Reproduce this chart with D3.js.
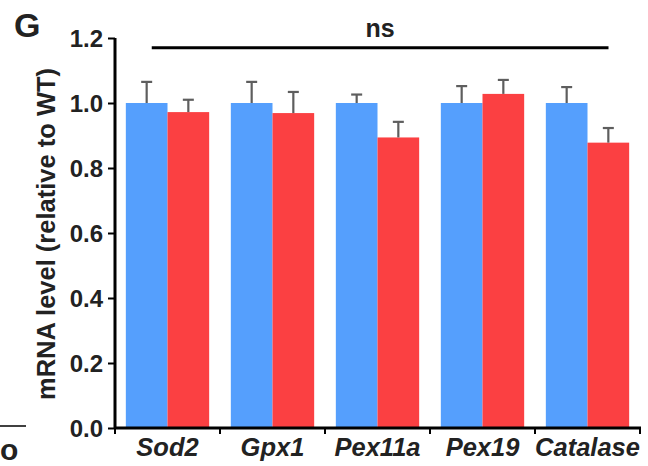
<!DOCTYPE html>
<html>
<head>
<meta charset="utf-8">
<script src="https://cdn.jsdelivr.net/npm/d3@7"></script>
<style>
  body { margin: 0; background: #fff; }
  text { font-family: Arial, "Liberation Sans", Helvetica, sans-serif; }
</style>
</head>
<body>
<script>
// genes on the x axis
var genes = ["Sod2", "Gpx1", "Pex11a", "Pex19", "Catalase"];
var groups = ["WT", "KO"];

// mean values (relative to WT)
var wtMean = [1.0, 1.0, 1.0, 1.0, 1.0];
var koMean = [0.972, 0.969, 0.894, 1.028, 0.878];
// upper error (mean + SEM)
var wtErr = [1.065, 1.065, 1.026, 1.052, 1.049];
var koErr = [1.010, 1.034, 0.942, 1.071, 0.923];

var yTicks = [0.0, 0.2, 0.4, 0.6, 0.8, 1.0, 1.2];
var colors = {WT: "#559ffd", KO: "#fb4042"};

var width = 648, height = 466;
var margin = {top: 38, right: 8, bottom: 38, left: 115};

var data = genes.map(function(g, i) {
  return {gene: g, values: [
    {key: "WT", mean: wtMean[i], err: wtErr[i]},
    {key: "KO", mean: koMean[i], err: koErr[i]}
  ]};
});

var svg = d3.select("body").append("svg")
    .attr("width", width)
    .attr("height", height);

var x0 = d3.scaleBand().domain(genes)
    .range([margin.left, width - margin.right]).padding(0);
var x1 = d3.scaleBand().domain(groups)
    .range([0, x0.bandwidth()]).paddingInner(0).paddingOuter(0.26);
var y = d3.scaleLinear().domain([0, 1.2])
    .range([height - margin.bottom, margin.top]);

// bars
var g = svg.selectAll(".grp")
    .data(data)
  .enter().append("g")
    .attr("transform", function(d) { return "translate(" + x0(d.gene) + ",0)"; });

g.selectAll("rect")
    .data(function(d) { return d.values; })
  .enter().append("rect")
    .attr("x", function(d) { return x1(d.key); })
    .attr("width", x1.bandwidth())
    .attr("y", function(d) { return y(d.mean); })
    .attr("height", function(d) { return y(0) - y(d.mean); })
    .style("fill", function(d) { return colors[d.key]; });

// error bars
var eb = g.selectAll(".err")
    .data(function(d) { return d.values; })
  .enter().append("g")
    .style("stroke", "#5e5e5e")
    .style("stroke-width", 2.2);
eb.append("line")
    .attr("x1", function(d) { return x1(d.key) + x1.bandwidth() / 2; })
    .attr("x2", function(d) { return x1(d.key) + x1.bandwidth() / 2; })
    .attr("y1", function(d) { return y(d.mean); })
    .attr("y2", function(d) { return y(d.err); });
eb.append("line")
    .attr("x1", function(d) { return x1(d.key) + x1.bandwidth() / 2 - 5.5; })
    .attr("x2", function(d) { return x1(d.key) + x1.bandwidth() / 2 + 5.5; })
    .attr("y1", function(d) { return y(d.err); })
    .attr("y2", function(d) { return y(d.err); });

// y axis
var yAxis = d3.axisLeft(y).tickValues(yTicks)
    .tickFormat(d3.format(".1f")).tickSize(7).tickPadding(5);
var ya = svg.append("g")
    .attr("transform", "translate(" + margin.left + ",0)")
    .call(yAxis);
ya.select(".domain").attr("d", "M0," + y(0) + "V" + y(1.2)).style("stroke-width", 3);
ya.selectAll(".tick line").style("stroke-width", 2);
ya.selectAll("text")
    .style("font-size", "24px").style("font-weight", "bold")
    .style("fill", "#222").attr("dy", "0.36em");

// x axis, ticks between genes
var xa = svg.append("g")
    .attr("transform", "translate(0," + y(0) + ")");
xa.append("line")
    .attr("x1", margin.left).attr("x2", width - margin.right + 1)
    .style("stroke", "#000").style("stroke-width", 3);
var bounds = genes.map(function(d) { return x0(d); }).concat([x0.range()[1]]);
xa.selectAll(".xt")
    .data(bounds)
  .enter().append("line")
    .attr("x1", function(d) { return d; }).attr("x2", function(d) { return d; })
    .attr("y1", 0).attr("y2", 6)
    .style("stroke", "#000").style("stroke-width", 2);
xa.selectAll(".xl")
    .data(genes)
  .enter().append("text")
    .attr("x", function(d) { return x0(d) + x0.bandwidth() / 2; })
    .attr("y", 28)
    .attr("text-anchor", "middle")
    .style("font-size", "25.5px").style("font-weight", "bold").style("font-style", "italic")
    .style("fill", "#222")
    .text(function(d) { return d; });

// y label
svg.append("text")
    .attr("transform", "translate(55,234) rotate(-90)")
    .attr("text-anchor", "middle")
    .style("font-size", "25.5px").style("font-weight", "bold").style("fill", "#222")
    .text("mRNA level (relative to WT)");

// significance line
var sigY = y(1.17);
svg.append("line")
    .attr("x1", x0("Sod2") + 0.35 * x0.bandwidth())
    .attr("x2", x0("Catalase") + 0.7 * x0.bandwidth())
    .attr("y1", sigY).attr("y2", sigY)
    .style("stroke", "#000").style("stroke-width", 3);
svg.append("text")
    .attr("x", 380).attr("y", 37)
    .attr("text-anchor", "middle")
    .style("font-size", "25px").style("font-weight", "bold").style("fill", "#222")
    .text("ns");

// panel letter
svg.append("text")
    .attr("x", 14).attr("y", 37)
    .style("font-size", "34px").style("font-weight", "bold").style("fill", "#222")
    .text("G");

// fragment of the neighbouring panel
svg.append("line")
    .attr("x1", 0).attr("x2", 26).attr("y1", 426).attr("y2", 426)
    .style("stroke", "#000").style("stroke-width", 1.5);
svg.append("text")
    .attr("x", 0).attr("y", 460)
    .style("font-size", "30px").style("font-weight", "bold").style("fill", "#222")
    .text("o");
</script>
</body>
</html>
